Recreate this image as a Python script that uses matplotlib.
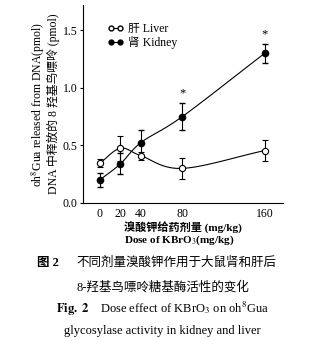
import numpy as np
import matplotlib
matplotlib.use('Agg')
import matplotlib.pyplot as plt

plt.rcParams['font.family'] = ['Liberation Serif', 'Noto Sans CJK SC']
plt.rcParams['mathtext.fontset'] = 'stix'

# data
dose = [0, 20, 40, 80, 160]
liver = [0.345, 0.475, 0.41, 0.30, 0.455]
liver_err = [0.035, 0.11, 0.035, 0.09, 0.09]
kidney = [0.20, 0.34, 0.525, 0.75, 1.30]
kidney_err = [0.06, 0.09, 0.105, 0.12, 0.08]
star_dose = [80, 160]
xticks = [0, 20, 40, 80, 160]
yticks = [0.0, 0.5, 1.0, 1.5]


# smooth curve through the points (catmull-rom), just for drawing the line
def smooth(xs, ys, n=30):
    xs = np.asarray(xs, float)
    ys = np.asarray(ys, float)
    px = np.concatenate([[2*xs[0]-xs[1]], xs, [2*xs[-1]-xs[-2]]])
    py = np.concatenate([[2*ys[0]-ys[1]], ys, [2*ys[-1]-ys[-2]]])
    ox, oy = [], []
    for i in range(1, len(px)-2):
        t = np.linspace(0, 1, n)
        for p, o in ((px, ox), (py, oy)):
            p0, p1, p2, p3 = p[i-1], p[i], p[i+1], p[i+2]
            o.extend(0.5*((2*p1) + (-p0+p2)*t + (2*p0-5*p1+4*p2-p3)*t**2
                          + (-p0+3*p1-3*p2+p3)*t**3))
    return np.array(ox), np.array(oy)


fig = plt.figure(figsize=(3.25, 3.41), dpi=100)
ax = fig.add_axes([0.255, 0.405, 0.616, 0.58])

lx, ly = smooth(dose, liver)
kx, ky = smooth(dose, kidney)
ax.plot(lx, ly, color='black', lw=0.8)
ax.plot(kx, ky, color='black', lw=0.8)
ax.errorbar(dose, liver, yerr=liver_err, fmt='o', mfc='white', mec='black',
            ms=4.5, mew=0.8, ecolor='black', elinewidth=0.8, capsize=2)
ax.errorbar(dose, kidney, yerr=kidney_err, fmt='o', mfc='black', mec='black',
            ms=4.5, ecolor='black', elinewidth=0.8, capsize=2)

# significance stars
for d in star_dose:
    i = dose.index(d)
    ax.text(d, kidney[i] + kidney_err[i] + 0.03, '*', ha='center', va='bottom', fontsize=9)

# legend handles
ax.plot([], [], 'o-', color='black', mfc='white', ms=3.5, lw=0.8, label='肝 Liver')
ax.plot([], [], 'o-', color='black', ms=3.5, lw=0.8, label='肾 Kidney')
h, l = ax.get_legend_handles_labels()
ax.legend(h[-2:], l[-2:], loc='upper left', bbox_to_anchor=(0.08, 0.95), frameon=False,
          fontsize=8.5, handlelength=1.4, handletextpad=0.4, labelspacing=0.05,
          numpoints=2, borderpad=0.2)

ax.set_xlim(-16.5, 178)
ax.set_ylim(0, 1.72)
ax.set_xticks(xticks)
ax.set_yticks(yticks)
ax.set_yticklabels(['%.1f' % v for v in yticks])
ax.tick_params(axis='x', length=0, labelsize=8.5, pad=4)
ax.tick_params(axis='y', length=2, width=0.8, labelsize=8.5, pad=2)
for s in ['top', 'right']:
    ax.spines[s].set_visible(False)
for s in ['left', 'bottom']:
    ax.spines[s].set_linewidth(0.8)

ax.set_ylabel('oh$^8$Gua released from DNA(pmol)\nDNA 中释放的 8 羟基鸟嘌呤 (pmol)',
              fontsize=8.5, linespacing=1.0, labelpad=2)
ax.set_xlabel('溴酸钾给药剂量 (mg/kg)\nDose of KBrO$_3$(mg/kg)', fontsize=8,
              fontweight='bold', multialignment='left', linespacing=1.0, labelpad=1)

# caption
fig.text(0.115, 1 - 263/341, '图 2', ha='left', va='center', fontsize=9, fontweight='bold')
fig.text(0.235, 1 - 263/341, '不同剂量溴酸钾作用于大鼠肾和肝后', ha='left', va='center', fontsize=9)
fig.text(0.5, 1 - 287/341, '8-羟基鸟嘌呤糖基酶活性的变化', ha='center', va='center', fontsize=9)
fig.text(0.5, 1 - 309/341, r'$\mathbf{Fig.\ 2}$    Dose effect of KBrO$_3$ on oh$^8$Gua',
         ha='center', va='center', fontsize=9)
fig.text(0.5, 1 - 331/341, 'glycosylase activity in kidney and liver', ha='center', va='center', fontsize=9)

fig.savefig('out.png', dpi=100)
